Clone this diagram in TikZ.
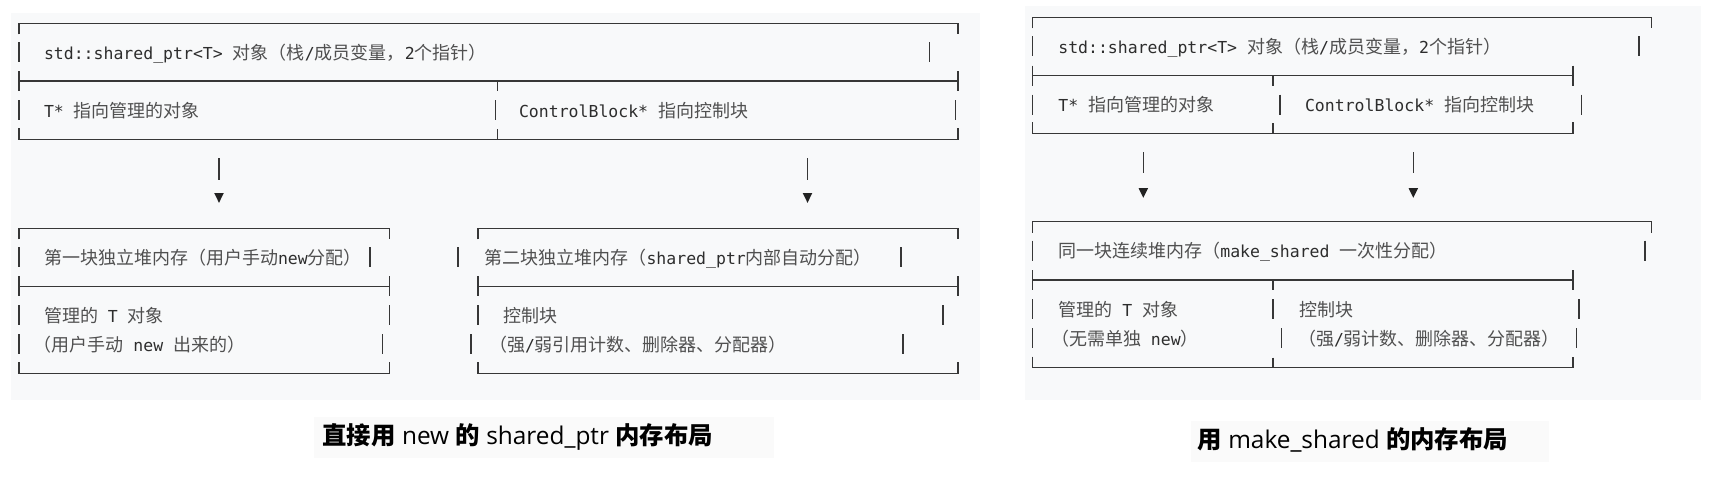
\documentclass[tikz,border=0pt]{standalone}
\usepackage{fontspec}
\setmainfont{Noto Sans CJK SC}
\newfontfamily\monof{DejaVu Sans Mono}[Scale=0.917]
\newfontfamily\latf{Open Sans}
\definecolor{panelbg}{RGB}{248,249,250}
\definecolor{titlebg}{RGB}{250,250,250}
\definecolor{linec}{RGB}{55,55,55}
\definecolor{monoc}{RGB}{45,45,45}
\definecolor{cjkc}{RGB}{80,80,80}
\definecolor{tric}{RGB}{34,34,34}
\newcommand\mt[1]{{\monof\color{monoc}#1}}
\newcommand\bxTop[3]{\draw[bx] (#2,{#1+11}) -- (#2,#1) -- (#3,#1) -- (#3,{#1+11});}
\newcommand\bxMid[3]{\draw[bx] (#2,#1) -- (#3,#1) (#2,{#1-10}) -- (#2,{#1+10}) (#3,{#1-10}) -- (#3,{#1+10});}
\newcommand\bxBot[3]{\draw[bx] (#2,{#1-11}) -- (#2,#1) -- (#3,#1) -- (#3,{#1-11});}
\newcommand\bxV[2]{\draw[bx] (#1,{#2-10}) -- (#1,{#2+10});}
\newcommand\bxTd[2]{\draw[bx] (#1,#2) -- (#1,{#2+10});}
\newcommand\bxTu[2]{\draw[bx] (#1,{#2-10}) -- (#1,#2);}
\newcommand\bxArrow[5]{%
  \coordinate (#1s) at (#2,#3); \coordinate (#1e) at (#2,#4);
  \draw[bx] (#1s) -- (#1e);
  \fill[tric] ({#2-4.8},#5) -- ({#2+4.8},#5) -- (#2,{#5+9.8}) -- cycle;}
\begin{document}
\begin{tikzpicture}[x=0.5pt,y=-0.5pt,
  bx/.style={draw=linec,line width=0.6pt},
  tx/.style={anchor=base west,inner sep=0pt,outer sep=0pt,font=\fontsize{9}{11}\selectfont,text=cjkc},
  ttl/.style={anchor=base west,inner sep=0pt,outer sep=0pt,font=\fontsize{12.2}{14}\selectfont,text=black}]
\useasboundingbox (0,0) rectangle (1712,495);
\fill[white] (0,0) rectangle (1712,495);
% ---------------- left panel ----------------
\fill[panelbg] (11,13) rectangle (980,400);
\bxTop{23.3}{19}{958}
\bxV{19}{52.4} \bxV{929.5}{52.4}
\bxMid{81}{19}{958} \bxTd{497.5}{81}
\bxV{19}{110.2} \bxV{495.5}{110.2} \bxV{955.6}{110.2}
\bxBot{139.3}{19}{958} \bxTu{497.5}{139.3}
\node[tx] (lr1) at (44,59.2) {\mt{std::shared\_ptr<T>\ }对象（栈\mt{/}成员变量，\mt{2}个指针）};
\node[tx] (lr2a) at (44,117) {\mt{T*\ }指向管理的对象};
\node[tx] (lr2b) at (519,117) {\mt{ControlBlock*\ }指向控制块};
\bxArrow{la1}{219}{158}{180}{193}
\bxArrow{la2}{807.5}{158}{180}{193}
% box A
\bxTop{228.3}{19}{389.3}
\bxV{19}{257.3} \bxV{370}{257.3}
\bxMid{286.3}{19}{389.3}
\bxV{19}{315.3} \bxV{389.3}{315.3}
\bxV{19}{344.3} \bxV{382.7}{344.3}
\bxBot{373.3}{19}{389.3}
\node[tx] (ar1) at (44,264.1) {第一块独立堆内存（用户手动\mt{new}分配）};
\node[tx] (ar2) at (44,322.1) {管理的\mt{\ T\ }对象};
\node[tx] (ar3) at (33.5,351.1) {（用户手动\mt{\ new\ }出来的）};
% box B
\bxTop{228.3}{478}{958}
\bxV{458}{257.3} \bxV{901}{257.3}
\bxMid{286.3}{478}{958}
\bxV{478}{315.3} \bxV{943}{315.3}
\bxV{471}{344.3} \bxV{903}{344.3}
\bxBot{373.3}{478}{958}
\node[tx] (br1) at (484.5,264.1) {第二块独立堆内存（\mt{shared\_ptr}内部自动分配）};
\node[tx] (br2) at (503,322.1) {控制块};
\node[tx] (br3) at (489,351.1) {（强\mt{/}弱引用计数、删除器、分配器）};
% title
\fill[titlebg] (314,417) rectangle (774,457.5);
\node[ttl] (t1) at (322.5,444.3) {{\bfseries 直接用}{\latf\ new\ }{\bfseries 的}{\latf\ shared\_ptr\ }{\bfseries 内存布局}};
% ---------------- right panel ----------------
\fill[panelbg] (1025,6) rectangle (1701,400);
\bxTop{17.3}{1032.7}{1651.7}
\bxV{1032.7}{46.3} \bxV{1639}{46.3}
\bxMid{75.7}{1032.7}{1573} \bxTd{1273}{75.7}
\bxV{1032.7}{104.7} \bxV{1280}{104.7} \bxV{1581.7}{104.7}
\bxBot{133.3}{1032.7}{1573} \bxTu{1273}{133.3}
\node[tx] (rr1) at (1058.3,53.1) {\mt{std::shared\_ptr<T>\ }对象（栈\mt{/}成员变量，\mt{2}个指针）};
\node[tx] (rr2a) at (1058.3,111.5) {\mt{T*\ }指向管理的对象};
\node[tx] (rr2b) at (1305,111.5) {\mt{ControlBlock*\ }指向控制块};
\bxArrow{ra1}{1143.3}{152}{173}{188}
\bxArrow{ra2}{1413.3}{152}{173}{188}
% box C
\bxTop{221.7}{1032.7}{1651.7}
\bxV{1032.7}{250.7} \bxV{1645}{250.7}
\bxMid{280}{1032.7}{1573} \bxTd{1273}{280}
\bxV{1032.7}{309.3} \bxV{1273}{309.3} \bxV{1579}{309.3}
\bxV{1032.7}{338.3} \bxV{1281.7}{338.3} \bxV{1576.7}{338.3}
\bxBot{367.7}{1032.7}{1573} \bxTu{1273}{367.7}
\node[tx] (cr1) at (1058.3,257.5) {同一块连续堆内存（\mt{make\_shared\ }一次性分配）};
\node[tx] (cr2a) at (1058.3,316.1) {管理的\mt{\ T\ }对象};
\node[tx] (cr2b) at (1299,316.1) {控制块};
\node[tx] (cr3a) at (1051,345.1) {（无需单独\mt{\ new}）};
\node[tx] (cr3b) at (1298,345.1) {（强\mt{/}弱计数、删除器、分配器）};
% title
\fill[titlebg] (1191,421) rectangle (1549,462);
\node[ttl] (t2) at (1197.5,448.3) {{\bfseries 用}{\latf\ make\_shared\ }{\bfseries 的内存布局}};
\end{tikzpicture}
\end{document}
